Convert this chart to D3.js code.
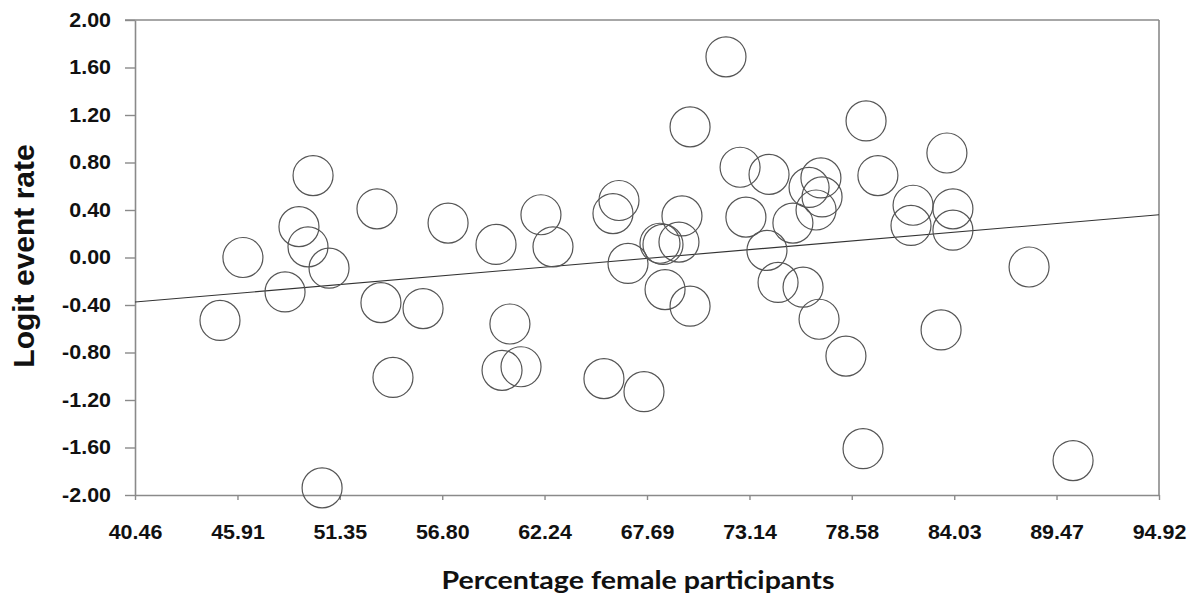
<!DOCTYPE html>
<html>
<head>
<meta charset="utf-8">
<script src="https://cdn.jsdelivr.net/npm/d3@7"></script>
<style>
  html, body { margin: 0; padding: 0; background: #fff; }
  svg { display: block; }
</style>
</head>
<body>
<svg id="chart" width="1197" height="601"></svg>
<script>
// Study-level values: percentage of female participants vs logit event rate
const pctFemale = [
  44.98, 46.20, 48.44, 49.18, 49.66, 49.93, 50.78, 50.41, 53.33, 53.54,
  54.18, 55.78, 57.11, 59.66, 60.40, 59.98, 60.99, 62.05, 62.69, 65.40,
  65.88, 66.20, 66.68, 67.53, 68.38, 68.54, 68.65, 69.55, 69.39, 69.98,
  69.98, 71.89, 72.64, 72.95, 74.07, 74.18, 74.66, 75.45, 75.99, 76.31,
  76.94, 77.00, 76.68, 76.84, 78.27, 79.18, 79.34, 79.97, 81.84, 81.73,
  83.33, 83.64, 83.96, 83.96, 88.01, 90.35
];
const logitRate = [
  -0.53, 0.00, -0.29, 0.26, 0.09, 0.69, -0.09, -1.94, 0.41, -0.38,
  -1.01, -0.43, 0.29, 0.11, -0.56, -0.95, -0.92, 0.36, 0.09, -1.02,
  0.37, 0.48, -0.05, -1.13, 0.12, 0.11, -0.27, 0.35, 0.13, -0.41,
  1.10, 1.69, 0.76, 0.34, 0.06, 0.70, -0.21, 0.29, -0.25, 0.59,
  0.67, 0.51, 0.40, -0.52, -0.83, -1.61, 1.15, 0.69, 0.44, 0.27,
  -0.61, 0.88, 0.41, 0.23, -0.08, -1.71
];

// Fitted regression line end points
const fitX = [40.46, 94.92];
const fitY = [-0.375, 0.36];

// Axis tick values
const xTicks = [40.46, 45.91, 51.35, 56.80, 62.24, 67.69, 73.14, 78.58, 84.03, 89.47, 94.92];
const yTicks = [2.00, 1.60, 1.20, 0.80, 0.40, 0.00, -0.40, -0.80, -1.20, -1.60, -2.00];

const svg = d3.select("#chart");
const plot = { left: 135, right: 1159, top: 20, bottom: 495 };

const x = d3.scaleLinear().domain([40.46, 94.92]).range([plot.left, plot.right]);
const y = d3.scaleLinear().domain([-2, 2]).range([plot.bottom, plot.top]);

// Two-decimal labels with a plain hyphen for negatives
const fmt = d3.formatLocale({ decimal: ".", thousands: ",", grouping: [3], currency: ["", ""], minus: "-" }).format(".2f");

const axisColor = "#8a8a8a";
const labelFont = "'Liberation Sans', Arial, sans-serif";

// Stretch tick labels a little wider than the regular glyphs
function widen(sel, factor) {
  sel.each(function () {
    const w = this.getComputedTextLength();
    d3.select(this).attr("textLength", w * factor).attr("lengthAdjust", "spacingAndGlyphs");
  });
}

// Frame: top and right edges
svg.append("line")
  .attr("x1", plot.left - 10).attr("x2", plot.right)
  .attr("y1", plot.top).attr("y2", plot.top)
  .attr("stroke", axisColor).attr("stroke-width", 1.6);
svg.append("line")
  .attr("x1", plot.right).attr("x2", plot.right)
  .attr("y1", plot.top).attr("y2", plot.bottom)
  .attr("stroke", axisColor).attr("stroke-width", 1.6);

// X axis
const gx = svg.append("g")
  .attr("transform", `translate(0,${plot.bottom})`)
  .call(d3.axisBottom(x).tickValues(xTicks).tickFormat(fmt)
    .tickSize(5).tickPadding(25).tickSizeOuter(0));
gx.select(".domain").attr("stroke", axisColor).attr("stroke-width", 1.6);
gx.selectAll(".tick line").attr("stroke", axisColor).attr("stroke-width", 1.4);
gx.selectAll(".tick text")
  .attr("fill", "#111").style("font-family", labelFont)
  .style("font-size", "19.5px").style("font-weight", "bold")
  .call(widen, 1.1);

// Y axis
const gy = svg.append("g")
  .attr("transform", `translate(${plot.left},0)`)
  .call(d3.axisLeft(y).tickValues(yTicks).tickFormat(fmt)
    .tickSize(10).tickPadding(14).tickSizeOuter(0));
gy.select(".domain").attr("stroke", axisColor).attr("stroke-width", 1.6);
gy.selectAll(".tick line").attr("stroke", axisColor).attr("stroke-width", 1.4);
gy.selectAll(".tick text")
  .attr("fill", "#111").style("font-family", labelFont)
  .style("font-size", "19.5px").style("font-weight", "bold")
  .call(widen, 1.1);

// Regression line
svg.append("line")
  .attr("x1", x(fitX[0])).attr("y1", y(fitY[0]))
  .attr("x2", x(fitX[1])).attr("y2", y(fitY[1]))
  .attr("stroke", "#333").attr("stroke-width", 1.1);

// Study bubbles
const studies = pctFemale.map((p, i) => ({ p, r: logitRate[i] }));
svg.append("g")
  .selectAll("circle")
  .data(studies)
  .join("circle")
  .attr("cx", d => x(d.p))
  .attr("cy", d => y(d.r))
  .attr("r", 20)
  .attr("fill", "none")
  .attr("stroke", "#555")
  .attr("stroke-width", 1.2);

// Axis titles
svg.append("text")
  .attr("x", 638).attr("y", 589)
  .attr("text-anchor", "middle")
  .attr("fill", "#111")
  .style("font-family", "Lato, 'Open Sans', sans-serif")
  .style("font-size", "25px").style("font-weight", "bold")
  .attr("textLength", 393).attr("lengthAdjust", "spacingAndGlyphs")
  .text("Percentage female participants");

svg.append("text")
  .attr("transform", "translate(34,256) rotate(-90)")
  .attr("text-anchor", "middle")
  .attr("fill", "#111")
  .style("font-family", labelFont)
  .style("font-size", "30px").style("font-weight", "bold")
  .text("Logit event rate");
</script>
</body>
</html>
